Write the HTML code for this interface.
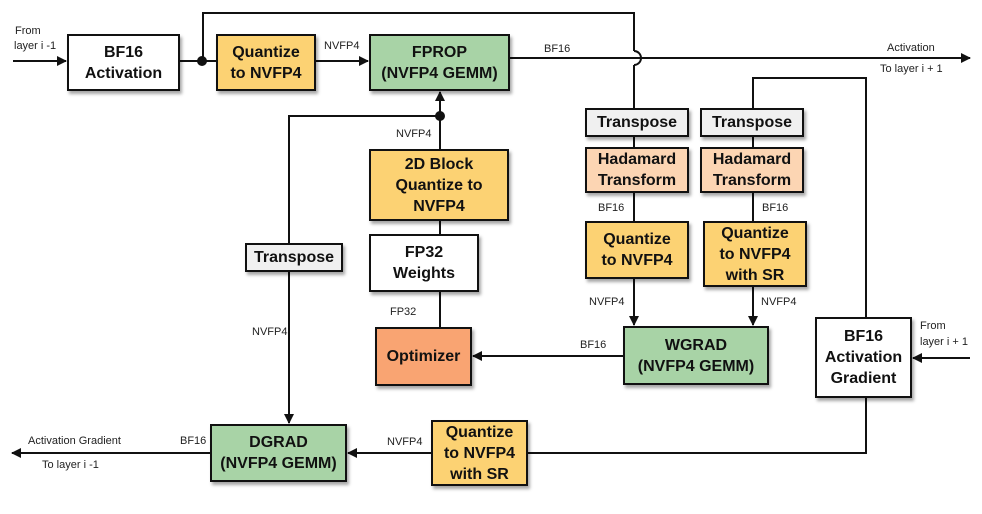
<!DOCTYPE html>
<html><head><meta charset="utf-8"><style>
body{margin:0;width:982px;height:514px;background:#fff;position:relative;overflow:hidden;font-family:"Liberation Sans",sans-serif}
.b{position:absolute;box-sizing:border-box;border:2.5px solid #111;display:flex;align-items:center;justify-content:center;text-align:center;font-weight:bold;font-size:16px;line-height:21px;color:#111;box-shadow:2px 3px 3px rgba(0,0,0,.35)}
.y{background:#fcd273}.g{background:#a8d3a6}.o{background:#f9a472}.p{background:#fcd5b3}.t{background:#f0f0f0}.w{background:#fff}
.l{position:absolute;font-size:11px;color:#222;white-space:nowrap}
svg{position:absolute;left:0;top:0}
</style></head><body>
<svg width="982" height="514" fill="none" stroke="#111" stroke-width="2">
<defs><marker id="a" markerWidth="10" markerHeight="10" refX="9" refY="5" orient="auto" markerUnits="userSpaceOnUse"><path d="M0,0L10,5L0,10z" fill="#111" stroke="none"/></marker></defs>
<line x1="13" y1="61" x2="66" y2="61" marker-end="url(#a)"/>
<line x1="180" y1="61" x2="216" y2="61"/>
<polyline points="203,61 203,13 634,13 634,51"/>
<path d="M634,51 a7,7 0 0 1 0,14"/>
<line x1="634" y1="65" x2="634" y2="108"/>
<line x1="316" y1="61" x2="368" y2="61" marker-end="url(#a)"/>
<line x1="510" y1="58" x2="970" y2="58" marker-end="url(#a)"/>
<line x1="440" y1="149" x2="440" y2="92" marker-end="url(#a)"/>
<polyline points="440,116 289,116 289,243"/>
<line x1="289" y1="272" x2="289" y2="423" marker-end="url(#a)"/>
<line x1="440" y1="221" x2="440" y2="234"/>
<line x1="440" y1="292" x2="440" y2="327"/>
<line x1="634" y1="137" x2="634" y2="147"/>
<line x1="634" y1="193" x2="634" y2="221"/>
<line x1="634" y1="279" x2="634" y2="325" marker-end="url(#a)"/>
<line x1="753" y1="137" x2="753" y2="147"/>
<line x1="753" y1="193" x2="753" y2="221"/>
<line x1="753" y1="287" x2="753" y2="325" marker-end="url(#a)"/>
<polyline points="753,108 753,78 866,78 866,317"/>
<line x1="623" y1="356" x2="473" y2="356" marker-end="url(#a)"/>
<line x1="970" y1="358" x2="913" y2="358" marker-end="url(#a)"/>
<polyline points="866,398 866,453 528,453"/>
<line x1="431" y1="453" x2="348" y2="453" marker-end="url(#a)"/>
<line x1="210" y1="453" x2="12" y2="453" marker-end="url(#a)"/>
<circle cx="202" cy="61" r="5" fill="#111" stroke="none"/>
<circle cx="440" cy="116" r="5" fill="#111" stroke="none"/>
</svg>
<div class="b w" style="left:67px;top:34px;width:113px;height:57px">BF16<br>Activation</div>
<div class="b y" style="left:216px;top:34px;width:100px;height:57px">Quantize<br>to NVFP4</div>
<div class="b g" style="left:369px;top:34px;width:141px;height:57px">FPROP<br>(NVFP4 GEMM)</div>
<div class="b y" style="left:369px;top:149px;width:140px;height:72px">2D Block<br>Quantize to<br>NVFP4</div>
<div class="b w" style="left:369px;top:234px;width:110px;height:58px">FP32<br>Weights</div>
<div class="b o" style="left:375px;top:327px;width:97px;height:59px">Optimizer</div>
<div class="b t" style="left:245px;top:243px;width:98px;height:29px">Transpose</div>
<div class="b t" style="left:585px;top:108px;width:104px;height:29px">Transpose</div>
<div class="b p" style="left:585px;top:147px;width:104px;height:46px">Hadamard<br>Transform</div>
<div class="b y" style="left:585px;top:221px;width:104px;height:58px">Quantize<br>to NVFP4</div>
<div class="b t" style="left:700px;top:108px;width:104px;height:29px">Transpose</div>
<div class="b p" style="left:700px;top:147px;width:104px;height:46px">Hadamard<br>Transform</div>
<div class="b y" style="left:703px;top:221px;width:104px;height:66px">Quantize<br>to NVFP4<br>with SR</div>
<div class="b g" style="left:623px;top:326px;width:146px;height:59px">WGRAD<br>(NVFP4 GEMM)</div>
<div class="b w" style="left:815px;top:317px;width:97px;height:81px">BF16<br>Activation<br>Gradient</div>
<div class="b y" style="left:431px;top:420px;width:97px;height:66px">Quantize<br>to NVFP4<br>with SR</div>
<div class="b g" style="left:210px;top:424px;width:137px;height:58px">DGRAD<br>(NVFP4 GEMM)</div>
<div class="l" style="left:15px;top:25px">From</div>
<div class="l" style="left:14px;top:40px">layer i -1</div>
<div class="l" style="left:324px;top:40px">NVFP4</div>
<div class="l" style="left:544px;top:43px">BF16</div>
<div class="l" style="left:887px;top:42px">Activation</div>
<div class="l" style="left:880px;top:63px">To layer i + 1</div>
<div class="l" style="left:396px;top:128px">NVFP4</div>
<div class="l" style="left:252px;top:326px">NVFP4</div>
<div class="l" style="left:390px;top:306px">FP32</div>
<div class="l" style="left:598px;top:202px">BF16</div>
<div class="l" style="left:762px;top:202px">BF16</div>
<div class="l" style="left:589px;top:296px">NVFP4</div>
<div class="l" style="left:761px;top:296px">NVFP4</div>
<div class="l" style="left:580px;top:339px">BF16</div>
<div class="l" style="left:920px;top:320px">From</div>
<div class="l" style="left:920px;top:336px">layer i + 1</div>
<div class="l" style="left:387px;top:436px">NVFP4</div>
<div class="l" style="left:180px;top:435px">BF16</div>
<div class="l" style="left:28px;top:435px">Activation Gradient</div>
<div class="l" style="left:42px;top:459px">To layer i -1</div>
</body></html>
